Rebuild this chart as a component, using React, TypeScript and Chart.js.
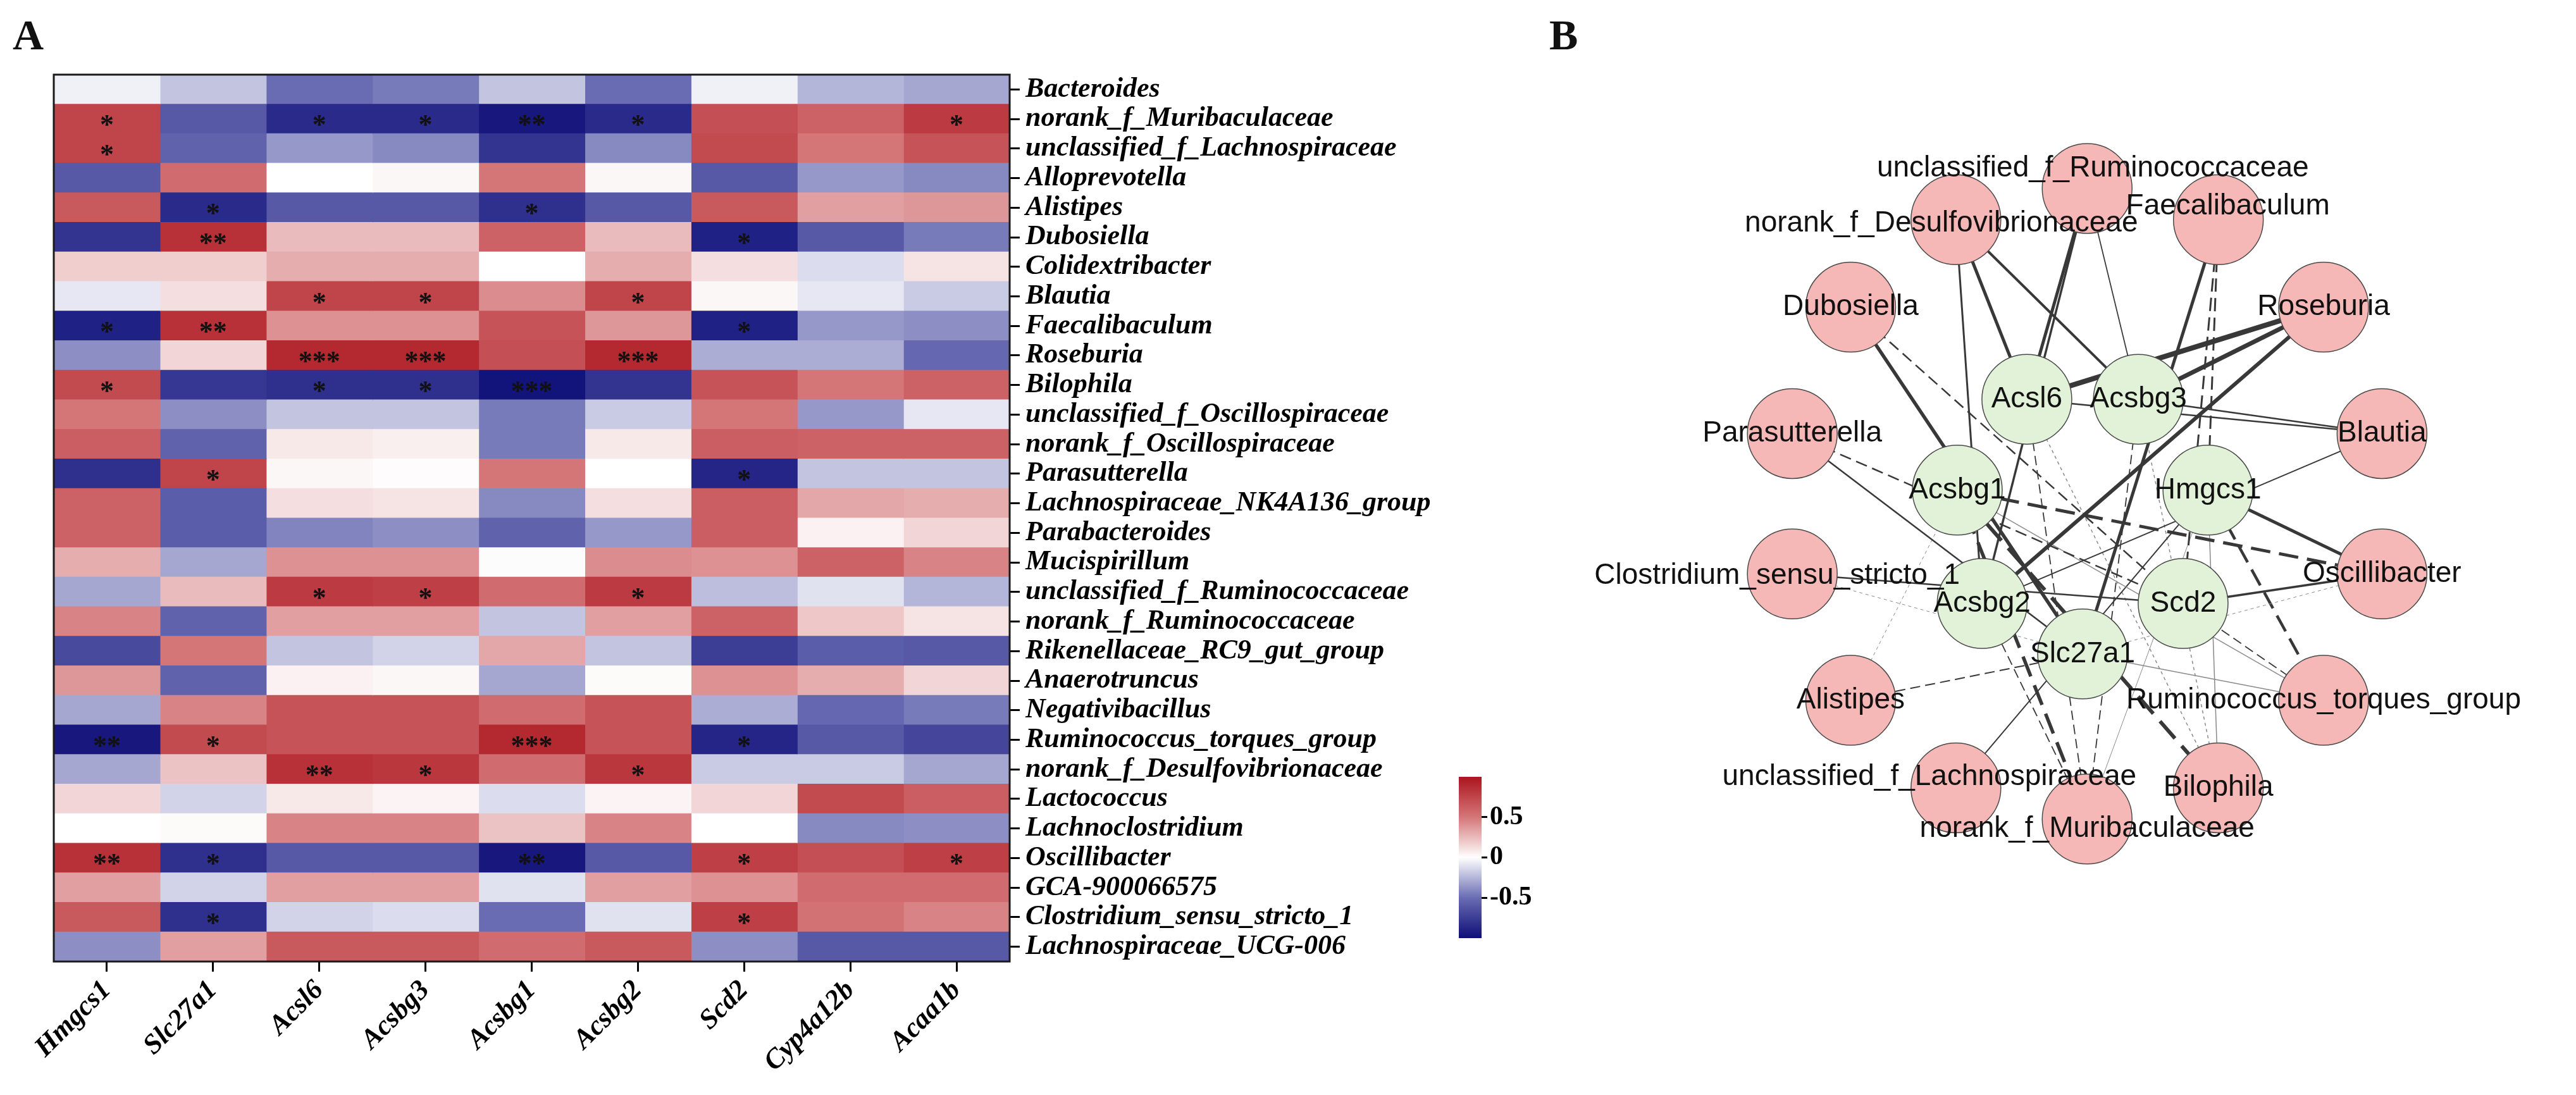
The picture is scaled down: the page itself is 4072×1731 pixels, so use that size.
import React, { useEffect, useRef } from 'react';
import { Chart, registerables } from 'chart.js';

Chart.register(...registerables);

// ---------------- Heatmap data (panel A) ----------------
const genes = ['Hmgcs1', 'Slc27a1', 'Acsl6', 'Acsbg3', 'Acsbg1', 'Acsbg2', 'Scd2', 'Cyp4a12b', 'Acaa1b'];

const genera = [
  'Bacteroides', 'norank_f_Muribaculaceae', 'unclassified_f_Lachnospiraceae', 'Alloprevotella', 'Alistipes',
  'Dubosiella', 'Colidextribacter', 'Blautia', 'Faecalibaculum', 'Roseburia',
  'Bilophila', 'unclassified_f_Oscillospiraceae', 'norank_f_Oscillospiraceae', 'Parasutterella', 'Lachnospiraceae_NK4A136_group',
  'Parabacteroides', 'Mucispirillum', 'unclassified_f_Ruminococcaceae', 'norank_f_Ruminococcaceae', 'Rikenellaceae_RC9_gut_group',
  'Anaerotruncus', 'Negativibacillus', 'Ruminococcus_torques_group', 'norank_f_Desulfovibrionaceae', 'Lactococcus',
  'Lachnoclostridium', 'Oscillibacter', 'GCA-900066575', 'Clostridium_sensu_stricto_1', 'Lachnospiraceae_UCG-006',
];

// correlation values, one array per gene, rows in the order of `genera`
const rHmgcs1 = [-0.05, 0.75, 0.75, -0.6, 0.65, -0.8, 0.18, -0.08, -0.9, -0.38, 0.72, 0.5, 0.62, -0.82, 0.6, 0.6, 0.3, -0.3, 0.45, -0.68, 0.38, -0.3, -0.95, -0.3, 0.15, 0.0, 0.85, 0.35, 0.65, -0.38];
const rSlc27a1 = [-0.2, -0.6, -0.55, 0.55, -0.85, 0.85, 0.18, 0.12, 0.85, 0.15, -0.78, -0.38, -0.55, 0.75, -0.58, -0.58, -0.3, 0.25, -0.55, 0.5, -0.55, 0.45, 0.72, 0.22, -0.15, 0.02, -0.82, -0.15, -0.82, 0.35];
const rAcsl6 = [-0.5, -0.85, -0.35, 0.0, -0.6, 0.25, 0.3, 0.75, 0.4, 0.9, -0.82, -0.2, 0.08, 0.03, 0.12, -0.42, 0.4, 0.8, 0.35, -0.2, 0.05, 0.68, 0.68, 0.85, 0.08, 0.45, -0.6, 0.35, -0.15, 0.65];
const rAcsbg3 = [-0.45, -0.85, -0.4, 0.03, -0.6, 0.25, 0.3, 0.75, 0.4, 0.9, -0.82, -0.2, 0.06, 0.01, 0.1, -0.38, 0.4, 0.78, 0.35, -0.15, 0.03, 0.68, 0.68, 0.82, 0.04, 0.45, -0.6, 0.35, -0.12, 0.65];
const rAcsbg1 = [-0.2, -0.95, -0.8, 0.5, -0.82, 0.6, 0.0, 0.42, 0.68, 0.7, -0.97, -0.45, -0.45, 0.5, -0.4, -0.55, -0.01, 0.55, -0.2, 0.32, -0.3, 0.55, 0.9, 0.55, -0.12, 0.22, -0.95, -0.1, -0.5, 0.55];
const rAcsbg2 = [-0.5, -0.85, -0.4, 0.03, -0.6, 0.25, 0.3, 0.75, 0.38, 0.9, -0.8, -0.18, 0.08, 0.0, 0.12, -0.35, 0.42, 0.8, 0.35, -0.2, 0.02, 0.68, 0.68, 0.82, 0.04, 0.45, -0.6, 0.35, -0.1, 0.65];
const rScd2 = [-0.05, 0.7, 0.72, -0.6, 0.65, -0.9, 0.12, 0.03, -0.9, -0.28, 0.68, 0.5, 0.62, -0.88, 0.62, 0.62, 0.4, -0.22, 0.6, -0.75, 0.4, -0.28, -0.88, -0.18, 0.15, 0.0, 0.78, 0.4, 0.78, -0.38];
const rCyp4a12b = [-0.25, 0.6, 0.5, -0.35, 0.35, -0.6, -0.12, -0.08, -0.35, -0.28, 0.5, -0.35, 0.6, -0.2, 0.32, 0.05, 0.6, -0.1, 0.2, -0.58, 0.3, -0.52, -0.6, -0.18, 0.72, -0.4, 0.7, 0.55, 0.52, -0.6];
const rAcaa1b = [-0.3, 0.8, 0.68, -0.4, 0.38, -0.45, 0.1, -0.18, -0.38, -0.52, 0.6, -0.08, 0.6, -0.2, 0.3, 0.15, 0.45, -0.25, 0.1, -0.6, 0.15, -0.45, -0.7, -0.3, 0.62, -0.38, 0.78, 0.55, 0.45, -0.6];

const corrByGene = [rHmgcs1, rSlc27a1, rAcsl6, rAcsbg3, rAcsbg1, rAcsbg2, rScd2, rCyp4a12b, rAcaa1b];

// significance marks: [genus, gene, stars]
const significance: [string, string, string][] = [
  ['norank_f_Muribaculaceae', 'Hmgcs1', '*'], ['norank_f_Muribaculaceae', 'Acsl6', '*'], ['norank_f_Muribaculaceae', 'Acsbg3', '*'],
  ['norank_f_Muribaculaceae', 'Acsbg1', '**'], ['norank_f_Muribaculaceae', 'Acsbg2', '*'], ['norank_f_Muribaculaceae', 'Acaa1b', '*'],
  ['unclassified_f_Lachnospiraceae', 'Hmgcs1', '*'],
  ['Alistipes', 'Slc27a1', '*'], ['Alistipes', 'Acsbg1', '*'],
  ['Dubosiella', 'Slc27a1', '**'], ['Dubosiella', 'Scd2', '*'],
  ['Blautia', 'Acsl6', '*'], ['Blautia', 'Acsbg3', '*'], ['Blautia', 'Acsbg2', '*'],
  ['Faecalibaculum', 'Hmgcs1', '*'], ['Faecalibaculum', 'Slc27a1', '**'], ['Faecalibaculum', 'Scd2', '*'],
  ['Roseburia', 'Acsl6', '***'], ['Roseburia', 'Acsbg3', '***'], ['Roseburia', 'Acsbg2', '***'],
  ['Bilophila', 'Hmgcs1', '*'], ['Bilophila', 'Acsl6', '*'], ['Bilophila', 'Acsbg3', '*'], ['Bilophila', 'Acsbg1', '***'],
  ['Parasutterella', 'Slc27a1', '*'], ['Parasutterella', 'Scd2', '*'],
  ['unclassified_f_Ruminococcaceae', 'Acsl6', '*'], ['unclassified_f_Ruminococcaceae', 'Acsbg3', '*'], ['unclassified_f_Ruminococcaceae', 'Acsbg2', '*'],
  ['Ruminococcus_torques_group', 'Hmgcs1', '**'], ['Ruminococcus_torques_group', 'Slc27a1', '*'], ['Ruminococcus_torques_group', 'Acsbg1', '***'], ['Ruminococcus_torques_group', 'Scd2', '*'],
  ['norank_f_Desulfovibrionaceae', 'Acsl6', '**'], ['norank_f_Desulfovibrionaceae', 'Acsbg3', '*'], ['norank_f_Desulfovibrionaceae', 'Acsbg2', '*'],
  ['Oscillibacter', 'Hmgcs1', '**'], ['Oscillibacter', 'Slc27a1', '*'], ['Oscillibacter', 'Acsbg1', '**'], ['Oscillibacter', 'Scd2', '*'], ['Oscillibacter', 'Acaa1b', '*'],
  ['Clostridium_sensu_stricto_1', 'Slc27a1', '*'], ['Clostridium_sensu_stricto_1', 'Scd2', '*'],
];

const legendTicks = [-0.5, 0, 0.5];

// ---------------- Network data (panel B) ----------------
// outer ring (clockwise from top)
const networkGenera = [
  'unclassified_f_Ruminococcaceae', 'Faecalibaculum', 'Roseburia', 'Blautia', 'Oscillibacter',
  'Ruminococcus_torques_group', 'Bilophila', 'norank_f_Muribaculaceae', 'unclassified_f_Lachnospiraceae', 'Alistipes',
  'Clostridium_sensu_stricto_1', 'Parasutterella', 'Dubosiella', 'norank_f_Desulfovibrionaceae',
];
// inner ring (clockwise)
const networkGenes = ['Acsbg3', 'Hmgcs1', 'Scd2', 'Slc27a1', 'Acsbg2', 'Acsbg1', 'Acsl6'];

// edges: [genus, gene, line weight]; negative weight = negative correlation (dashed)
const networkEdges: [string, string, number][] = [
  ['unclassified_f_Ruminococcaceae', 'Acsl6', 5], ['unclassified_f_Ruminococcaceae', 'Acsbg3', 1.8], ['unclassified_f_Ruminococcaceae', 'Acsbg2', 3.5],
  ['norank_f_Desulfovibrionaceae', 'Acsl6', 5], ['norank_f_Desulfovibrionaceae', 'Acsbg3', 4], ['norank_f_Desulfovibrionaceae', 'Acsbg2', 3],
  ['Faecalibaculum', 'Slc27a1', 5], ['Faecalibaculum', 'Hmgcs1', -3], ['Faecalibaculum', 'Scd2', -3],
  ['Dubosiella', 'Slc27a1', 5.5], ['Dubosiella', 'Scd2', -2.5],
  ['Roseburia', 'Acsl6', 8], ['Roseburia', 'Acsbg3', 7], ['Roseburia', 'Acsbg2', 6],
  ['Parasutterella', 'Slc27a1', 2.5], ['Parasutterella', 'Scd2', -2.5],
  ['Blautia', 'Acsl6', 2.5], ['Blautia', 'Acsbg3', 2.5], ['Blautia', 'Acsbg2', 2],
  ['Clostridium_sensu_stricto_1', 'Slc27a1', -1], ['Clostridium_sensu_stricto_1', 'Scd2', 2.5],
  ['Oscillibacter', 'Hmgcs1', 5], ['Oscillibacter', 'Slc27a1', -1], ['Oscillibacter', 'Acsbg1', -5], ['Oscillibacter', 'Scd2', 3.5],
  ['Alistipes', 'Slc27a1', -2], ['Alistipes', 'Acsbg1', -1],
  ['Ruminococcus_torques_group', 'Hmgcs1', -4.5], ['Ruminococcus_torques_group', 'Slc27a1', 1.5], ['Ruminococcus_torques_group', 'Acsbg1', 1.5], ['Ruminococcus_torques_group', 'Scd2', -1.8],
  ['unclassified_f_Lachnospiraceae', 'Hmgcs1', 2],
  ['Bilophila', 'Hmgcs1', 1.5], ['Bilophila', 'Acsl6', -1.5], ['Bilophila', 'Acsbg3', -1.5], ['Bilophila', 'Acsbg1', -6],
  ['norank_f_Muribaculaceae', 'Hmgcs1', 1], ['norank_f_Muribaculaceae', 'Acsl6', -1.8], ['norank_f_Muribaculaceae', 'Acsbg3', -1.8],
  ['norank_f_Muribaculaceae', 'Acsbg1', -5.5], ['norank_f_Muribaculaceae', 'Acsbg2', -1.8],
];

// ---------------- styles ----------------
const SERIF = '"Liberation Serif", "Times New Roman", Times, serif';
const SANS = '"Liberation Sans", Arial, Helvetica, sans-serif';

const colorStops: [number, number[]][] = [
  [-1, [14, 14, 120]],
  [-0.5, [105, 108, 178]],
  [0, [255, 255, 255]],
  [0.5, [212, 118, 120]],
  [1, [172, 20, 30]],
];

function corrColor(v: number): string {
  const x = Math.max(-1, Math.min(1, v));
  for (let i = 0; i < colorStops.length - 1; i++) {
    const [a, ca] = colorStops[i];
    const [b, cb] = colorStops[i + 1];
    if (x <= b) {
      const t = (x - a) / (b - a);
      const c = ca.map((ch, k) => Math.round(ch + (cb[k] - ch) * t));
      return `rgb(${c[0]},${c[1]},${c[2]})`;
    }
  }
  const c = colorStops[colorStops.length - 1][1];
  return `rgb(${c[0]},${c[1]},${c[2]})`;
}

const HEAT_W = 2290;
const HEAT_H = 1731;
const AREA = { left: 85, top: 118, right: 1596, bottom: 1520 };

const labelFont = { family: SERIF, size: 44, style: 'italic' as const, weight: 'bold' as const };

const heatmapOverlay = {
  id: 'heatmapOverlay',
  afterDatasetsDraw(chart: any) {
    const ctx = chart.ctx as CanvasRenderingContext2D;
    ctx.save();
    ctx.font = `bold 44px ${SERIF}`;
    ctx.fillStyle = '#111';
    ctx.textAlign = 'center';
    ctx.textBaseline = 'alphabetic';
    significance.forEach(([genus, gene, s]) => {
      const c = genes.indexOf(gene);
      const r = genera.indexOf(genus);
      const el = chart.getDatasetMeta(c).data[r];
      if (!el) return;
      const p = el.getCenterPoint();
      ctx.fillText(s, p.x, p.y + 23);
    });
    const a = chart.chartArea;
    ctx.lineWidth = 3;
    ctx.strokeStyle = '#1a1a1a';
    ctx.strokeRect(a.left, a.top, a.right - a.left, a.bottom - a.top);
    ctx.restore();
  },
};

function heatmapConfig(): any {
  return {
    type: 'bar',
    data: {
      labels: genera,
      datasets: genes.map((g, c) => ({
        label: g,
        data: genera.map(() => [c, c + 1]),
        backgroundColor: corrByGene[c].map(corrColor),
        borderWidth: 0,
        barPercentage: 1,
        categoryPercentage: 1,
        grouped: false,
        inflateAmount: 0.6,
      })),
    },
    options: {
      indexAxis: 'y',
      animation: false,
      responsive: false,
      devicePixelRatio: 1,
      layout: { padding: { left: AREA.left, top: AREA.top, right: 0, bottom: 0 } },
      plugins: { legend: { display: false }, tooltip: { enabled: false } },
      scales: {
        x: {
          type: 'linear',
          position: 'bottom',
          min: 0,
          max: genes.length,
          afterBuildTicks: (s: any) => {
            s.ticks = genes.map((_, i) => ({ value: i + 0.5 }));
          },
          afterFit: (s: any) => {
            s.height = HEAT_H - AREA.bottom;
          },
          ticks: {
            autoSkip: false,
            minRotation: 45,
            maxRotation: 45,
            padding: 4,
            color: '#000',
            font: labelFont,
            callback: (v: number) => genes[Math.floor(v)],
          },
          grid: { drawOnChartArea: false, drawTicks: true, tickLength: 16, color: '#000', lineWidth: 3 },
          border: { display: false },
        },
        y: {
          type: 'category',
          position: 'right',
          afterFit: (s: any) => {
            s.width = HEAT_W - AREA.right;
          },
          ticks: { autoSkip: false, padding: 9, color: '#000', font: labelFont },
          grid: { offset: false, drawOnChartArea: false, drawTicks: true, tickLength: 16, color: '#000', lineWidth: 3 },
          border: { display: false },
        },
      },
    },
    plugins: [heatmapOverlay],
  };
}

function colorbarConfig(): any {
  return {
    type: 'bar',
    data: {
      labels: [''],
      datasets: [
        {
          data: [[-1, 1]],
          backgroundColor: (context: any) => {
            const { chart } = context;
            const area = chart.chartArea;
            if (!area) return '#fff';
            const g = chart.ctx.createLinearGradient(0, area.bottom, 0, area.top);
            for (let v = -1; v <= 1.0001; v += 0.05) {
              g.addColorStop(Math.min(1, (v + 1) / 2), corrColor(v));
            }
            return g;
          },
          borderWidth: 0,
          barPercentage: 1,
          categoryPercentage: 1,
        },
      ],
    },
    options: {
      animation: false,
      responsive: false,
      devicePixelRatio: 1,
      layout: { padding: { left: 16, top: 48, bottom: 47, right: 0 } },
      plugins: { legend: { display: false }, tooltip: { enabled: false } },
      scales: {
        x: { display: false },
        y: {
          position: 'right',
          min: -1,
          max: 1,
          afterBuildTicks: (s: any) => {
            s.ticks = legendTicks.map((v) => ({ value: v }));
          },
          afterFit: (s: any) => {
            s.width = 108;
          },
          ticks: { color: '#000', padding: 4, font: { family: SERIF, size: 42, weight: 'bold' } },
          grid: { drawOnChartArea: false, tickLength: 9, color: '#000', lineWidth: 3 },
          border: { display: false },
        },
      },
    },
  };
}

// network layout
const NET_W = 1622;
const NET_H = 1731;
const PX_X = 525; // px per layout unit
const PX_Y = 544;
const CENTER_PX = { x: 853, y: 790 };
const innerRadius = 0.425;
const innerCenter = { x: -0.015, y: -0.0515 };

function outerPos(i: number) {
  const t = (i * 2 * Math.PI) / networkGenera.length;
  return { x: Math.sin(t), y: Math.cos(t) };
}
function innerPos(j: number) {
  const t = ((j + 0.5) * 2 * Math.PI) / networkGenes.length;
  return { x: innerCenter.x + innerRadius * Math.sin(t), y: innerCenter.y + innerRadius * Math.cos(t) };
}
function nodePos(name: string) {
  const i = networkGenera.indexOf(name);
  if (i >= 0) return outerPos(i);
  return innerPos(networkGenes.indexOf(name));
}

const labelOffsets: Record<string, [number, number]> = {
  'unclassified_f_Ruminococcaceae': [9, -32],
  'norank_f_Desulfovibrionaceae': [-23, 6],
  'Faecalibaculum': [15, -21],
  'Clostridium_sensu_stricto_1': [-24, 3],
  'unclassified_f_Lachnospiraceae': [-42, -17],
  'norank_f_Muribaculaceae': [0, 16],
};

const networkLabels = {
  id: 'networkLabels',
  afterDatasetsDraw(chart: any) {
    const ctx = chart.ctx as CanvasRenderingContext2D;
    ctx.save();
    ctx.font = `46px ${SANS}`;
    ctx.fillStyle = '#111';
    ctx.textAlign = 'center';
    ctx.textBaseline = 'middle';
    const n = chart.data.datasets.length;
    const sets: [number, string[]][] = [
      [n - 2, networkGenera],
      [n - 1, networkGenes],
    ];
    sets.forEach(([idx, names]) => {
      const meta = chart.getDatasetMeta(idx);
      meta.data.forEach((el: any, i: number) => {
        const name = names[i];
        const off = labelOffsets[name] || [0, 0];
        ctx.fillText(name, el.x + off[0], el.y + off[1]);
      });
    });
    ctx.restore();
  },
};

function networkConfig(): any {
  const edgeSets = networkEdges.map(([genus, gene, w]) => {
    const width = Math.abs(w);
    const thin = width < 1.6;
    return {
      data: [nodePos(genus), nodePos(gene)],
      showLine: true,
      borderColor: thin ? '#8a8a8a' : '#383838',
      borderWidth: width,
      borderDash: w < 0 ? (thin ? [5, 5] : [6 + width * 5, 4 + width * 2]) : [],
      pointRadius: 0,
      pointHoverRadius: 0,
      order: 2,
    };
  });
  const generaNodes = {
    data: networkGenera.map((_, i) => outerPos(i)),
    pointRadius: 71,
    pointHoverRadius: 71,
    backgroundColor: '#F6B8B6',
    borderColor: '#4a4a4a',
    borderWidth: 1.5,
    order: 0,
  };
  const geneNodes = {
    data: networkGenes.map((_, j) => innerPos(j)),
    pointRadius: 71,
    pointHoverRadius: 71,
    backgroundColor: '#E2F2D9',
    borderColor: '#4a4a4a',
    borderWidth: 1.5,
    order: 0,
  };
  return {
    type: 'scatter',
    data: { datasets: [...edgeSets, generaNodes, geneNodes] },
    options: {
      animation: false,
      responsive: false,
      devicePixelRatio: 1,
      layout: { padding: 0 },
      plugins: { legend: { display: false }, tooltip: { enabled: false } },
      scales: {
        x: { display: false, min: -CENTER_PX.x / PX_X, max: (NET_W - CENTER_PX.x) / PX_X },
        y: { display: false, min: -(NET_H - CENTER_PX.y) / PX_Y, max: CENTER_PX.y / PX_Y },
      },
    },
    plugins: [networkLabels],
  };
}

const panelLetter = (left: number): React.CSSProperties => ({
  position: 'absolute',
  left,
  top: 21,
  fontFamily: SERIF,
  fontWeight: 'bold',
  fontSize: 68,
  lineHeight: '68px',
  color: '#111',
});

export default function App() {
  const heatRef = useRef<HTMLCanvasElement>(null);
  const barRef = useRef<HTMLCanvasElement>(null);
  const netRef = useRef<HTMLCanvasElement>(null);

  useEffect(() => {
    const charts: Chart[] = [];
    if (heatRef.current) charts.push(new Chart(heatRef.current, heatmapConfig()));
    if (barRef.current) charts.push(new Chart(barRef.current, colorbarConfig()));
    if (netRef.current) charts.push(new Chart(netRef.current, networkConfig()));
    return () => charts.forEach((c) => c.destroy());
  }, []);

  return (
    <div style={{ position: 'absolute', left: 0, top: 0, width: 4072, height: 1731, background: '#fff', overflow: 'hidden' }}>
      <canvas ref={heatRef} width={HEAT_W} height={HEAT_H} style={{ position: 'absolute', left: 0, top: 0, width: HEAT_W, height: HEAT_H }} />
      <canvas ref={barRef} width={160} height={350} style={{ position: 'absolute', left: 2290, top: 1180, width: 160, height: 350 }} />
      <canvas ref={netRef} width={NET_W} height={NET_H} style={{ position: 'absolute', left: 2450, top: 0, width: NET_W, height: NET_H }} />
      <div style={panelLetter(20)}>A</div>
      <div style={panelLetter(2449)}>B</div>
    </div>
  );
}
